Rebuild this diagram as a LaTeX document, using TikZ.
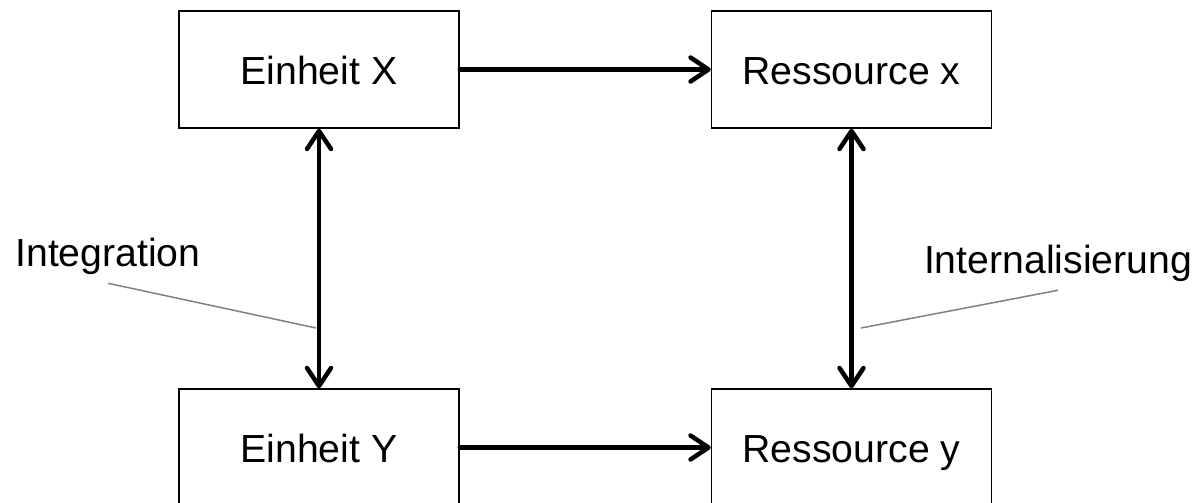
\documentclass[tikz,border=0pt]{standalone}
\usepackage{fontspec}
\setmainfont{Liberation Sans}
\usetikzlibrary{arrows.meta}
\definecolor{leadergray}{RGB}{128,128,128}
\tikzset{
	unitbox/.style = {draw, line width = 0.03cm, minimum width = 5.6cm, minimum height = 2.34cm, inner sep = 0pt, text height = 17pt, text depth = 0pt, font = \fontsize{22.3}{26}\selectfont},
	flow/.style = {line width = 0.09cm, line cap = round, -{Straight Barb[length = 0.36cm, width = 0.48cm, line cap = round, line join = round]}},
	bothflow/.style = {flow, {Straight Barb[length = 0.36cm, width = 0.48cm, line cap = round, line join = round]}-{Straight Barb[length = 0.36cm, width = 0.48cm, line cap = round, line join = round]}},
	tag/.style = {inner sep = 5pt, anchor = base, font = \fontsize{22.3}{26}\selectfont},
	leader/.style = {draw = leadergray, line width = 0.03cm}
}

\begin{document}
\begin{tikzpicture}

					\useasboundingbox (0,0) rectangle (23.96,10.04);

					\node[unitbox] (einheitx) at (6.38,8.65) {Einheit X};
					\node[unitbox] (ressourcex) at (17.03,8.65) {Ressource x};
					\node[unitbox] (einheity) at (6.38,1.09) {Einheit Y};
					\node[unitbox] (ressourcey) at (17.03,1.09) {Ressource y};

					\draw[flow] (einheitx) -- (ressourcex);
					\draw[flow] (einheity) -- (ressourcey);
					\draw[bothflow] (einheitx) -- (einheity);
					\draw[bothflow] (ressourcex) -- (ressourcey);

					\node[tag] (integration) at (2.16,4.72) {Integration};
					\node[tag] (internalisierung) at (21.16,4.58) {Internalisierung};

					\coordinate (integrationend) at (6.32,3.48);
					\coordinate (internalisierungend) at (17.22,3.48);

					\draw[leader] (integration.south) -- (integrationend);
					\draw[leader] (internalisierung.south) -- (internalisierungend);

\end{tikzpicture}
\end{document}
